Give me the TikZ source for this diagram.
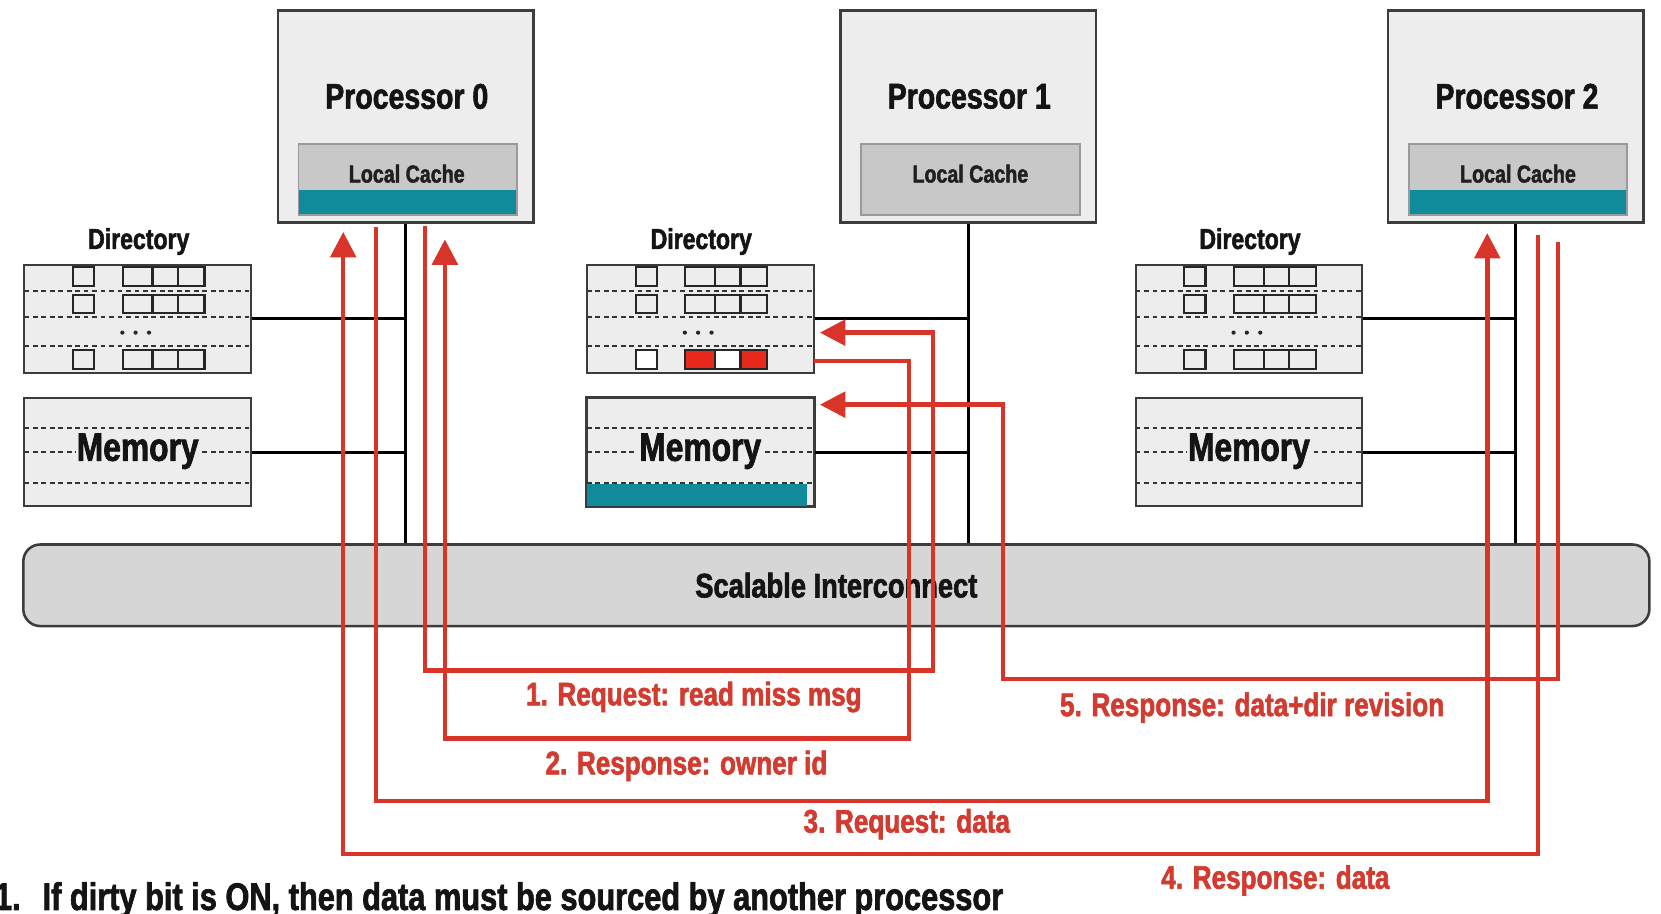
\documentclass[tikz,border=0pt]{standalone}
\usepackage{fontspec}
\setmainfont{Liberation Sans}[FakeStretch=0.8, BoldFeatures={FakeBold=1.8}]
\usetikzlibrary{arrows.meta}
\definecolor{boxfill}{HTML}{EDEDED}
\definecolor{cachefill}{HTML}{C8C8C8}
\definecolor{cacheline}{HTML}{9A9A9A}
\definecolor{icfill}{HTML}{D6D6D6}
\definecolor{tealc}{HTML}{0F8B9B}
\definecolor{redc}{HTML}{D8342A}
\definecolor{redtext}{HTML}{D23B2F}
\definecolor{edge}{HTML}{3C3C3C}
\definecolor{cellred}{HTML}{E8291C}
\tikzset{
  procbox/.style={draw=edge, line width=2.2pt, fill=boxfill, minimum width=241pt, minimum height=200pt, inner sep=0pt},
  cachebox/.style={fill=cachefill, minimum width=206pt, minimum height=67pt, inner sep=0pt},
  cacheedge/.style={draw=cacheline, line width=1.8pt},
  proctext/.style={font=\fontsize{33.6}{40}\selectfont\bfseries, text=black!92, inner sep=0pt},
  cachetext/.style={font=\fontsize{23.2}{28}\selectfont\bfseries, text=black!88, inner sep=0pt},
  dirtext/.style={font=\fontsize{27.2}{30}\selectfont\bfseries, text=black!92, inner sep=0pt},
  dirbox/.style={draw=edge, line width=2pt, fill=boxfill, minimum width=214pt, minimum height=102pt, inner sep=0pt},
  memtext/.style={font=\fontsize{37.5}{42}\selectfont\bfseries, text=black!92, fill=boxfill, inner sep=1pt},
  dashline/.style={draw=black!80, line width=2pt, dash pattern=on 4.5pt off 3.5pt},
  cell/.style={draw=black!85, line width=2pt, fill=boxfill},
  bus/.style={draw=black, line width=3pt},
  redline/.style={draw=redc, line width=4.2pt},
  redarrow/.style={redline, -{Triangle[length=24pt,width=24pt]}},
  redlabel/.style={font=\fontsize{30.8}{36}\selectfont\bfseries, text=redtext, inner sep=0pt},
  icbox/.style={draw=edge, line width=2.4pt, fill=icfill, rounded corners=16pt, minimum width=1535pt, minimum height=77pt, inner sep=0pt, font=\fontsize{32.2}{38}\selectfont\bfseries, text=black!92},
  bottomtext/.style={font=\fontsize{36.3}{40}\selectfont\bfseries, text=black!92, inner sep=0pt},
}
\newcommand\DirGrid[4]{%
  \begin{scope}[shift={(#1,#2)}]
    \foreach \yy in {24.4,49.5,76.3} \draw[dashline] (0,\yy) -- (214,\yy);
    \foreach \ya/\yb in {1.7/20,28.5/45.7} {
      \draw[cell] (46,\ya) rectangle (66,\yb);
      \draw[cell] (93,\ya) rectangle (121,\yb);
      \draw[cell] (121,\ya) rectangle (145,\yb);
      \draw[cell] (145,\ya) rectangle (170,\yb);
    }
    \draw[cell, fill=#3] (46,80.5) rectangle (66,98.5);
    \draw[cell, fill=#4] (93,80.5) rectangle (121,98.5);
    \draw[cell, fill=#3] (121,80.5) rectangle (145,98.5);
    \draw[cell, fill=#4] (145,80.5) rectangle (170,98.5);
    \foreach \xx in {92.5,105,117.7} \fill[black!85] (\xx,64) circle (2pt);
  \end{scope}}
\newcommand\MemLines[2]{%
  \foreach \yy in {27.7,51,79.6} \draw[dashline] (#1,#2+\yy) -- (#1+214,#2+\yy);}
\begin{document}
\begin{tikzpicture}[x=1pt,y=-1pt]
\useasboundingbox (0,0) rectangle (1568,862);
\fill[white] (0,0) rectangle (1568,862);

% interconnect
\node[icbox] (ic) at (789.5,552.5) {Scalable Interconnect};

% processors
\node[procbox] (p0) at (383,110) {};
\node[procbox] (p1) at (914,110) {};
\node[procbox] (p2) at (1431,110) {};
\node[proctext] (p0t) at (384,91) {Processor 0};
\node[proctext] (p1t) at (915,91) {Processor 1};
\node[proctext] (p2t) at (1432,91) {Processor 2};

% caches
\node[cachebox] (c0) at (385,169.5) {};
\node[cachebox] (c1) at (916,169.5) {};
\node[cachebox] (c2) at (1433,169.5) {};
\fill[tealc] (c0.south west) rectangle ([yshift=24pt]c0.south east);
\fill[tealc] (c2.south west) rectangle ([yshift=24pt]c2.south east);
\draw[cacheedge] (c0.south west) rectangle (c0.north east);
\draw[cacheedge] (c1.south west) rectangle (c1.north east);
\draw[cacheedge] (c2.south west) rectangle (c2.north east);
\node[cachetext] (c0t) at (384,164) {Local Cache};
\node[cachetext] (c1t) at (916,164) {Local Cache};
\node[cachetext] (c2t) at (1433,164) {Local Cache};

% directories
\node[dirtext] (d0t) at (131,228) {Directory};
\node[dirtext] (d1t) at (662,228) {Directory};
\node[dirtext] (d2t) at (1180,228) {Directory};
\node[dirbox] (d0) at (130,301) {};
\node[dirbox] (d1) at (661,301) {};
\node[dirbox] (d2) at (1179,301) {};
\DirGrid{23}{250}{boxfill}{boxfill}
\DirGrid{554}{250}{white}{cellred}
\DirGrid{1072}{250}{boxfill}{boxfill}

% memories
\node[dirbox] (m0) at (130,427) {};
\node[dirbox] (m1) at (661,427) {};
\node[dirbox] (m2) at (1179,427) {};
\MemLines{23}{376}
\MemLines{554}{376}
\MemLines{1072}{376}
\fill[tealc] ([xshift=1pt,yshift=1pt]m1.south west) rectangle ([xshift=-7pt,yshift=22pt]m1.south east);
\draw[draw=edge, line width=2pt] (m1.south west) rectangle (m1.north east);
\node[memtext] (m0t) at (130,426) {Memory};
\node[memtext] (m1t) at (661,426) {Memory};
\node[memtext] (m2t) at (1179,426) {Memory};

% black buses
\draw[bus] (p0.south) -- (p0.south |- ic.north);
\draw[bus] (p1.south) -- (p1.south |- ic.north);
\draw[bus] (p2.south) -- (p2.south |- ic.north);
\draw[bus] (d0.east) -- (d0.east -| p0.south);
\draw[bus] (d1.east) -- (d1.east -| p1.south);
\draw[bus] (d2.east) -- (d2.east -| p2.south);
\draw[bus] (m0.east) -- (m0.east -| p0.south);
\draw[bus] (m1.east) -- (m1.east -| p1.south);
\draw[bus] (m2.east) -- (m2.east -| p2.south);

% red message paths
\coordinate (r1s) at (401,213);
\coordinate (r1e) at (774,314);
\coordinate (r2s) at (768,341);
\coordinate (r2e) at (420,226);
\coordinate (r3s) at (355,214);
\coordinate (r3e) at (1404,220);
\coordinate (r4s) at (1452,222);
\coordinate (r4e) at (324,219);
\coordinate (r5s) at (1471,228);
\coordinate (r5e) at (774,382);
\draw[redarrow] (r1s) -- (401,633) -- (881,633) -- (881,314) -- (r1e);
\draw[redarrow] (r2s) -- (858,341) -- (858,697) -- (420,697) -- (r2e);
\draw[redarrow] (r3s) -- (355,756) -- (1404,756) -- (r3e);
\draw[redarrow] (r4s) -- (1452,806) -- (324,806) -- (r4e);
\draw[redarrow] (r5s) -- (1471,641) -- (947,641) -- (947,382) -- (r5e);

\node[redlabel] (l1) at (655,658) {1. Request: read miss msg};
\node[redlabel] (l2) at (648,723) {2. Response: owner id};
\node[redlabel] (l3) at (856,778) {3. Request: data};
\node[redlabel] (l4) at (1204,831) {4. Response: data};
\node[redlabel] (l5) at (1182,668) {5. Response: data+dir revision};

% bottom note (cut off at the lower edge, as in the original)
\begin{scope}
\clip (0,0) rectangle (1568,862);
\node[bottomtext, anchor=base west] (n1) at (-5,859) {1.};
\node[bottomtext, anchor=base west] (n2) at (40,859) {If dirty bit is ON, then data must be sourced by another processor};
\end{scope}
\end{tikzpicture}
\end{document}
